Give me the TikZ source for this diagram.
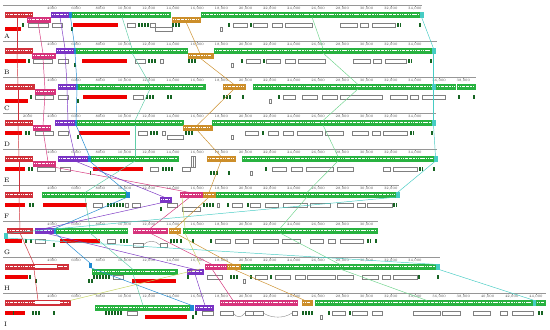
\documentclass[tikz,border=0pt]{standalone}
\usepackage{tikz}
\usetikzlibrary{positioning}
\definecolor{lcbred}{RGB}{208,48,58}
\definecolor{lcbpink}{RGB}{214,52,124}
\definecolor{lcbpurple}{RGB}{122,52,196}
\definecolor{lcbgreen}{RGB}{40,178,64}
\definecolor{lcborange}{RGB}{204,142,42}
\definecolor{lcbblue}{RGB}{30,138,210}
\definecolor{lcbcyan}{RGB}{70,204,196}
\definecolor{lcblime}{RGB}{110,212,140}
\definecolor{lcbmint}{RGB}{96,206,168}
\definecolor{lcbkhaki}{RGB}{196,212,96}
\definecolor{genered}{RGB}{238,0,0}
\definecolor{genegreen}{RGB}{22,100,34}
\definecolor{rulegray}{RGB}{150,150,150}

\def\up{7}
\def\dn{12}
\def\gu{17.5}
\def\gl{21.5}

% block: name, colour, x1, x2, level, anchor
\newcommand{\lcb}[6]{%
  \draw[lcbbox=#2] (#3,#5) rectangle (#4,#5+4.5);
  \draw[simline] (#3+1,#5+1.8) -- (#4-1,#5+1.8);
  \coordinate (#1-t) at (#6,#5);
  \coordinate (#1-b) at (#6,#5+4.5);}
\newcommand{\lcbsmall}[6]{%
  \draw[lcbbox=#2] (#3,#5) rectangle (#4,#5+4.5);
  \coordinate (#1-t) at (#6,#5);
  \coordinate (#1-b) at (#6,#5+4.5);}
\newcommand{\anc}[3]{%
  \coordinate (#1-t) at (#2,#3);
  \coordinate (#1-b) at (#2,#3+4.5);}
% ruler: track, end, last label (thousands)
\newcommand{\ruler}[3]{%
  \draw[rule] (3,0) -- (#2,0);
  \foreach \k in {4,6,...,#3} {
    \draw[rule] (3.5+12.1*\k,0) -- (3.5+12.1*\k,1.4);
    \node[ticklab] (#1-k\k) at (3.5+12.1*\k,2.7) {\ifnum\k<10 \k000\else\k,000\fi};
  }}
% genes: style, row, list
\newcommand{\genes}[3]{\foreach \a/\b in {#3} \path[#1] (\a,#2) rectangle (\b,#2+4);}

\begin{document}
\begin{tikzpicture}[x=0.03cm, y=-0.03cm,
  lcbbox/.style={draw=#1, fill=#1, line width=0.5pt},
  simline/.style={white, line width=1.1pt, dash pattern=on 1.2pt off 0.6pt on 0.4pt off 0.8pt on 2pt off 0.5pt on 0.6pt off 1pt},
  rule/.style={draw=rulegray, line width=0.3pt},
  ticklab/.style={font=\fontsize{3}{3}\selectfont, inner sep=0pt, text=black!70},
  trackid/.style={font=\fontsize{5.5}{6}\selectfont, inner sep=0pt, anchor=west},
  gwhite/.style={draw=black!50, fill=white, line width=0.3pt},
  gred/.style={fill=genered},
  gdark/.style={fill=genegreen},
  link/.style={draw=#1, line width=0.4pt},
]
  \fill[white] (0,0) rectangle (550,330);
  \useasboundingbox (0,0) rectangle (550,330);

  % Track A
  \begin{scope}[shift={(0,5.5)}]
    \ruler{A}{422}{34}
    \lcb{A-red}{lcbred}{5}{32}{\up}{17}
    \lcb{A-pink}{lcbpink}{27}{50}{\dn}{38}
    \lcb{A-purple}{lcbpurple}{51}{69}{\up}{60}
    \lcbsmall{A-blue}{lcbblue}{69}{72}{\up}{70.5}
    \lcb{A-lime}{lcbgreen}{72}{170}{\up}{122}
    \lcb{A-orange}{lcborange}{172}{200}{\dn}{186}
    \lcb{A-mint}{lcbgreen}{201}{420}{\up}{312}
    \lcbsmall{A-cyan}{lcbcyan}{420}{423}{\up}{421.5}
    \genes{gwhite}{\gu}{28/48,52/62,127/135,150/155,233/247,253/267,272/282,285/312,340/357,360/368,372/395}
    \genes{gwhite}{\gl}{155/172,220/222}
    \genes{gred}{\gu}{73/118}
    \genes{gred}{\gl}{5/21}
    \genes{gdark}{\gu}{22/24,138/140,141/143,144/146,147/148.5,172/174,175/177,178/180,228/229.5,250/251.5,397/398.5,399.5/401,419/420.5}
    \genes{gdark}{\gl}{71/72.5}
    \node[trackid] (idA) at (4,31) {A};
  \end{scope}

  % Track B
  \begin{scope}[shift={(0,41.5)}]
    \ruler{B}{437}{34}
    \lcb{B-red}{lcbred}{5}{32}{\up}{17}
    \lcb{B-pink}{lcbpink}{32}{55}{\dn}{43}
    \lcb{B-purple}{lcbpurple}{56}{74}{\up}{65}
    \lcbsmall{B-blue}{lcbblue}{74}{76.5}{\up}{75}
    \lcb{B-lime}{lcbgreen}{76.5}{187}{\up}{132}
    \lcb{B-orange}{lcborange}{188}{213}{\dn}{200}
    \lcb{B-mint}{lcbgreen}{214}{432}{\up}{323}
    \lcbsmall{B-cyan}{lcbcyan}{432}{435}{\up}{433.5}
    \genes{gwhite}{\gu}{33/52,58/68,135/145,160/163,246/260,266/280,285/295,298/325,353/370,373/381,385/406}
    \genes{gwhite}{\gl}{231/233}
    \genes{gred}{\gu}{5/26,82/127}
    \genes{gdark}{\gu}{28/30,148/150,151/153,154/156,188/190,191/193,194/196,241/242.5,263/264.5,408/409.5,410.5/412,430/431.5}
    \genes{gdark}{\gl}{74/75.5}
    \node[trackid] (idB) at (4,31) {B};
  \end{scope}

  % Track C
  \begin{scope}[shift={(0,77.5)}]
    \ruler{C}{476}{38}
    \lcb{C-red}{lcbred}{5}{34}{\up}{18}
    \lcb{C-pink}{lcbpink}{35}{55}{\dn}{45}
    \lcb{C-purple}{lcbpurple}{58}{76}{\up}{67}
    \lcbsmall{C-blue}{lcbblue}{76}{78.5}{\up}{77}
    \lcb{C-lime}{lcbgreen}{78.5}{205}{\up}{150}
    \lcb{C-orange}{lcborange}{223}{245}{\up}{234}
    \lcb{C-mint}{lcbgreen}{253}{432}{\up}{358}
    \lcbsmall{C-cyan}{lcbcyan}{432}{435}{\up}{433.5}
    \lcb{C-g3}{lcbgreen}{436}{455}{\up}{445}
    \lcb{C-g4}{lcbgreen}{457}{475}{\up}{466}
    \genes{gwhite}{\gu}{35/53,58/68,133/143,283/295,302/317,322/337,340/382,390/407,410/418,422/445}
    \genes{gwhite}{\gl}{269/271}
    \genes{gred}{\gu}{83/127}
    \genes{gred}{\gl}{5/28}
    \genes{gdark}{\gu}{30/32,146/148,149/151,152/154,167/169,170/172,223/225,226/228,229/231,242/243.5,278/279.5,458/459.5,473/474.5}
    \genes{gdark}{\gl}{77/78.5}
    \node[trackid] (idC) at (4,31) {C};
  \end{scope}

  % Track D
  \begin{scope}[shift={(0,113.5)}]
    \ruler{D}{436}{34}
    \draw[rule] (27.7,0) -- (27.7,1.4);
    \node[ticklab] (D-k2) at (27.7,2.7) {2000};
    \lcb{D-red}{lcbred}{5}{32}{\up}{18}
    \lcb{D-pink}{lcbpink}{33}{50}{\dn}{43}
    \lcb{D-purple}{lcbpurple}{55}{75}{\up}{68}
    \lcbsmall{D-blue}{lcbblue}{75}{77}{\up}{76}
    \lcb{D-lime}{lcbgreen}{77}{183}{\up}{135}
    \lcb{D-orange}{lcborange}{183}{212}{\dn}{197}
    \lcb{D-mint}{lcbgreen}{212}{432}{\up}{323}
    \lcbsmall{D-cyan}{lcbcyan}{432}{435}{\up}{433.5}
    \genes{gwhite}{\gu}{35/53,58/68,138/147,162/165,245/258,268/278,283/293,297/322,325/343,352/368,372/380,383/407}
    \genes{gwhite}{\gl}{167/183,231/233}
    \genes{gred}{\gu}{5/22,79/130}
    \genes{gdark}{\gu}{25/27,28/30,150/152,153/155,156/158,185/187,188/190,191/193,262/263.5,410/411.5,412.5/414,431/432.5}
    \genes{gdark}{\gl}{77/78.5}
    \node[trackid] (idD) at (4,31) {D};
  \end{scope}

  % Track E
  \begin{scope}[shift={(0,149.5)}]
    \ruler{E}{437}{34}
    \lcb{E-red}{lcbred}{5}{32}{\up}{19}
    \lcb{E-pink}{lcbpink}{33}{55}{\dn}{48}
    \lcb{E-purple}{lcbpurple}{58}{88}{\up}{75}
    \lcbsmall{E-blue}{lcbblue}{88}{91}{\up}{89.5}
    \lcb{E-lime}{lcbgreen}{91}{178}{\up}{135}
    \lcb{E-orange}{lcborange}{207}{235}{\up}{221}
    \lcb{E-mint}{lcbgreen}{242}{434}{\up}{338}
    \lcbsmall{E-cyan}{lcbcyan}{434}{437}{\up}{435.5}
    \draw[gwhite] (191.5,7) rectangle (193.2,18);
    \draw[gwhite] (193.2,7) rectangle (195,18);
    \genes{gwhite}{\gu}{37/55,60/70,150/158,182/190,272/286,291/302,306/333,337/353,383/390,393/417}
    \genes{gwhite}{\gl}{250/252}
    \genes{gred}{\gu}{5/25,93/143}
    \genes{gdark}{\gu}{28/30,30.5/32.5,162/164,165/167,168/170,171/173,265/266.5,419/420.5,421.5/423,433/434.5}
    \genes{gdark}{\gl}{89.5/91,210/212,213/215,216/218,228/229.5}
    \node[trackid] (idE) at (4,31) {E};
  \end{scope}

  % Track F
  \begin{scope}[shift={(0,185.5)}]
    \ruler{F}{399}{32}
    \lcb{F-red}{lcbred}{5}{32}{\up}{19}
    \lcb{F-lime}{lcbgreen}{42}{126}{\up}{85}
    \lcbsmall{F-blue}{lcbblue}{126}{129}{\up}{127.5}
    \lcb{F-purple}{lcbpurple}{160}{171}{\dn}{165}
    \lcb{F-pink}{lcbpink}{180}{202}{\up}{190}
    \anc{F-khaki}{182}{\up}
    \lcb{F-orange}{lcborange}{203}{215}{\up}{209}
    \lcb{F-mint}{lcbgreen}{216}{396}{\up}{307}
    \lcbsmall{F-cyan}{lcbcyan}{396}{399}{\up}{397.5}
    \genes{gwhite}{\gu}{93/102,125/128,132/140,167/177,217/219,232/242,250/260,265/278,283/307,310/330,337/353,357/365,367/392}
    \genes{gwhite}{\gl}{182/200}
    \genes{gred}{\gu}{5/25,43/87}
    \genes{gdark}{\gu}{29/31,31.5/33.5,107/109,110/112,113/115,116/118,119/121,122/124,203/205,206/208,209/211,212/214,227/228.5,247/248.5,393/394.5,395.5/397}
    \genes{gdark}{\gl}{160/161.5}
    \node[trackid] (idF) at (4,31) {F};
  \end{scope}

  % Track G
  \begin{scope}[shift={(0,221.5)}]
    \ruler{G}{378}{30}
    \lcbsmall{G-cyan}{lcbcyan}{4.5}{7}{\dn}{6}
    \lcb{G-red}{lcbred}{7}{32}{\up}{20}
    \lcb{G-purple}{lcbpurple}{35}{53}{\up}{45}
    \lcbsmall{G-blue}{lcbblue}{54}{56}{\up}{55}
    \lcb{G-lime}{lcbgreen}{56}{127}{\up}{90}
    \lcb{G-pink}{lcbpink}{133}{167}{\up}{150}
    \lcb{G-orange}{lcborange}{169}{180}{\up}{175}
    \lcb{G-mint}{lcbgreen}{183}{377}{\up}{280}
    \anc{G-khaki}{185}{\up}
    \genes{gwhite}{\gu}{35/45,107/115,215/230,235/248,253/278,282/300,310/323,328/335,340/363}
    \genes{gwhite}{\gl}{133/143,160/167}
    \draw[gwhite, fill=none] (143,23.5) .. controls (148,18.5) and (155,18.5) .. (160,23.5);
    \genes{gred}{\gu}{5/22,60/100}
    \genes{gdark}{\gu}{25/27,30/32,120/122,123/125,126/128,170/172,173/175,176/178,180/181.5,192/193.5,210/211.5,367/368.5,369.5/371,375/376.5}
    \genes{gdark}{\gl}{53/54.5}
    \node[trackid] (idG) at (4,31) {G};
  \end{scope}

  % Track H
  \begin{scope}[shift={(0,257.5)}]
    \ruler{H}{440}{34}
    \lcb{H-red}{lcbred}{5}{68}{\up}{34}
    \fill[white] (35,\up+0.8) rectangle (57,\up+3.7);
    \lcbsmall{H-blue}{lcbblue}{89}{91.5}{5.5}{90}
    \lcb{H-lime}{lcbgreen}{92}{177}{\dn}{133}
    \lcb{H-purple}{lcbpurple}{187}{203}{\dn}{195}
    \anc{H-khaki}{200}{\up}
    \lcb{H-pink}{lcbpink}{205}{227}{\up}{212}
    \lcb{H-orange}{lcborange}{227}{240}{\up}{233}
    \lcb{H-mint}{lcbgreen}{241}{436}{\up}{340}
    \lcbsmall{H-cyan}{lcbcyan}{436}{439}{\up}{437.5}
    \genes{gwhite}{\gu}{113/123,207/222,255/267,275/290,295/305,307/335,337/353,362/378,382/390,393/417}
    \genes{gwhite}{\gl}{243/245}
    \genes{gred}{\gu}{5/28}
    \genes{gred}{\gl}{132/176}
    \genes{gdark}{\gu}{29/31,93/95,96/98,99/101,102/104,105/107,108/110,187/188.5,230/232,233/235,236/238,250/251.5,270/271.5,418/419.5,437/438.5}
    \genes{gdark}{\gl}{35/36.5,88/89.5,91/92.5}
    \node[trackid] (idH) at (4,31) {H};
  \end{scope}

  % Track I
  \begin{scope}[shift={(0,293.5)}]
    \ruler{I}{546}{44}
    \lcb{I-red}{lcbred}{5}{70}{\up}{38}
    \fill[white] (35,\up+0.8) rectangle (60,\up+3.7);
    \anc{I-khaki}{70}{\up}
    \lcb{I-lime}{lcbgreen}{95}{190}{\dn}{143}
    \lcbsmall{I-blue}{lcbblue}{190.5}{193}{\dn}{192}
    \lcb{I-purple}{lcbpurple}{195}{213}{\dn}{205}
    \lcb{I-pink}{lcbpink}{220}{297}{\up}{233}
    \lcb{I-orange}{lcborange}{302}{312}{\up}{305}
    \lcb{I-mint}{lcbgreen}{315}{533}{\up}{427}
    \lcbsmall{I-cyan}{lcbcyan}{533}{536}{\up}{534.5}
    \lcb{I-g3}{lcbgreen}{536}{545}{\up}{540}
    \genes{gwhite}{\gu}{127/137,202/213,220/233,245/253,253/263,292/297,332/345,352/367,372/382,413/440,442/460,473/490,500/507,512/533}
    \genes{gwhite}{\gl}{320/322}
    \draw[gwhite, fill=none] (233,19.5) .. controls (237,24.5) and (241,24.5) .. (245,19.5);
    \draw[gwhite, fill=none] (263,19.5) .. controls (272,25) and (284,25) .. (292,19.5);
    \genes{gred}{\gu}{5/25}
    \genes{gred}{\gl}{145/187}
    \genes{gdark}{\gu}{13/14,32/33.5,35/36.5,38/39.5,53/54.5,105/107,108/110,111/113,114/116,117/119,120/122,195/196.5,302/304,305/307,308/310,311/313,328/329.5,349/350.5,538/539.5,541/542.5}
    \genes{gdark}{\gl}{192/193.5}
    \node[trackid] (idI) at (4,31) {I};
  \end{scope}

  % Connectors between homologous blocks
  \foreach \p/\q in {A/B,B/C,C/D,D/E,E/F,F/G,G/H,H/I} {
    \draw[link=lcbred] (\p-red-b) -- (\q-red-t);
    \draw[link=lcbpink] (\p-pink-b) -- (\q-pink-t);
    \draw[link=lcbpurple] (\p-purple-b) -- (\q-purple-t);
    \draw[link=lcbblue] (\p-blue-b) -- (\q-blue-t);
    \draw[link=lcbmint] (\p-lime-b) -- (\q-lime-t);
    \draw[link=lcblime] (\p-mint-b) -- (\q-mint-t);
    \draw[link=lcborange] (\p-orange-b) -- (\q-orange-t);
    \draw[link=lcbcyan] (\p-cyan-b) -- (\q-cyan-t);
  }
  \foreach \p/\q in {F/G,G/H,H/I}
    \draw[link=lcbkhaki] (\p-khaki-b) -- (\q-khaki-t);
\end{tikzpicture}
\end{document}
